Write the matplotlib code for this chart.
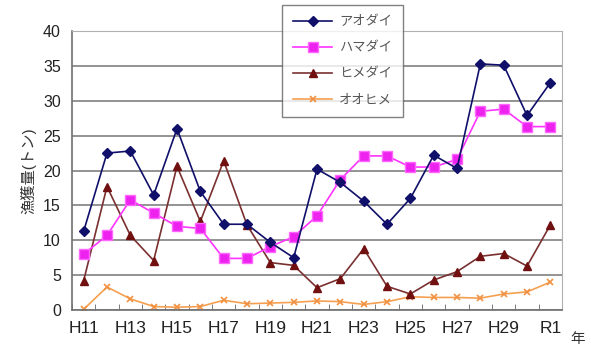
import matplotlib.pyplot as plt
import numpy as np

plt.rcParams['font.family'] = ['Liberation Sans', 'Noto Sans CJK JP', 'DejaVu Sans']

# Catch by year (tonnes)
years = ['H11', 'H12', 'H13', 'H14', 'H15', 'H16', 'H17', 'H18', 'H19', 'H20',
         'H21', 'H22', 'H23', 'H24', 'H25', 'H26', 'H27', 'H28', 'H29', 'H30', 'R1']
aodai = [11.3, 22.5, 22.8, 16.5, 26.0, 17.0, 12.3, 12.3, 9.7, 7.5,
         20.2, 18.3, 15.6, 12.3, 16.0, 22.2, 20.3, 35.3, 35.1, 27.9, 32.6]
hamadai = [8.0, 10.7, 15.8, 13.9, 12.0, 11.7, 7.4, 7.4, 9.1, 10.5,
           13.5, 18.7, 22.1, 22.1, 20.5, 20.5, 21.6, 28.5, 28.8, 26.3, 26.3]
himedai = [4.2, 17.7, 10.7, 7.1, 20.6, 12.7, 21.4, 12.2, 6.8, 6.4,
           3.2, 4.5, 8.8, 3.4, 2.3, 4.3, 5.5, 7.7, 8.1, 6.3, 12.2]
oohime = [0.1, 3.3, 1.6, 0.5, 0.4, 0.5, 1.4, 0.9, 1.0, 1.1,
          1.3, 1.2, 0.8, 1.2, 1.9, 1.8, 1.8, 1.7, 2.3, 2.6, 4.0]

x = np.arange(len(years))

fig = plt.figure(figsize=(5.91, 3.49), dpi=100)
ax = fig.add_axes([0.1218, 0.1117, 0.8292, 0.7993])

ax.plot(x, aodai, color='#10106a', lw=1.2, marker='D', ms=5,
        mfc='#10106a', mec='#10106a', label='アオダイ', zorder=5)
ax.plot(x, hamadai, color='#ff33ff', lw=1.2, marker='s', ms=7,
        mfc='#ee22ee', mec='#ff66ff', label='ハマダイ', zorder=4)
ax.plot(x, himedai, color='#7a3030', lw=1.2, marker='^', ms=6,
        mfc='#701010', mec='#701010', label='ヒメダイ', zorder=3)
ax.plot(x, oohime, color='#f5a050', lw=1.2, marker='x', ms=5,
        mew=1.2, mec='#f09040', label='オオヒメ', zorder=2)

ax.set_xlim(-0.5, len(years) - 0.5)
ax.set_ylim(0, 40)
ax.set_yticks(range(0, 41, 5))
ax.yaxis.grid(True, color='#808080', lw=1.2)
ax.set_axisbelow(True)

ax.set_xticks(x[::2])
ax.set_xticklabels(years[::2])
ax.set_xticks(np.arange(-0.5, len(years)), minor=True)
ax.tick_params(axis='x', which='major', length=0, labelsize=12.5, pad=8, colors='#222222')
ax.tick_params(axis='x', which='minor', direction='in', length=4, color='#666666')
ax.tick_params(axis='y', length=0, labelsize=11.5, pad=8, colors='#222222')

for side in ['left', 'bottom']:
    ax.spines[side].set_color('#707070')
    ax.spines[side].set_linewidth(1.2)
for side in ['top', 'right']:
    ax.spines[side].set_color('#b0b0b0')
    ax.spines[side].set_linewidth(0.8)

ax.set_ylabel('漁獲量(トン)', fontsize=11, color='#333333', labelpad=5)
fig.text(0.978, 0.03, '年', fontsize=10.5, color='#333333', ha='center', va='center')

leg = ax.legend(loc='upper left', bbox_to_anchor=(0.429, 1.093), borderaxespad=0,
                fontsize=9.5, frameon=True, fancybox=False, edgecolor='#606060',
                handlelength=3.0, borderpad=0.8, labelspacing=1.05, handletextpad=0.5)
leg.get_frame().set_linewidth(1.0)
for t in leg.get_texts():
    t.set_color('#555555')

fig.savefig('out.png', dpi=100)
